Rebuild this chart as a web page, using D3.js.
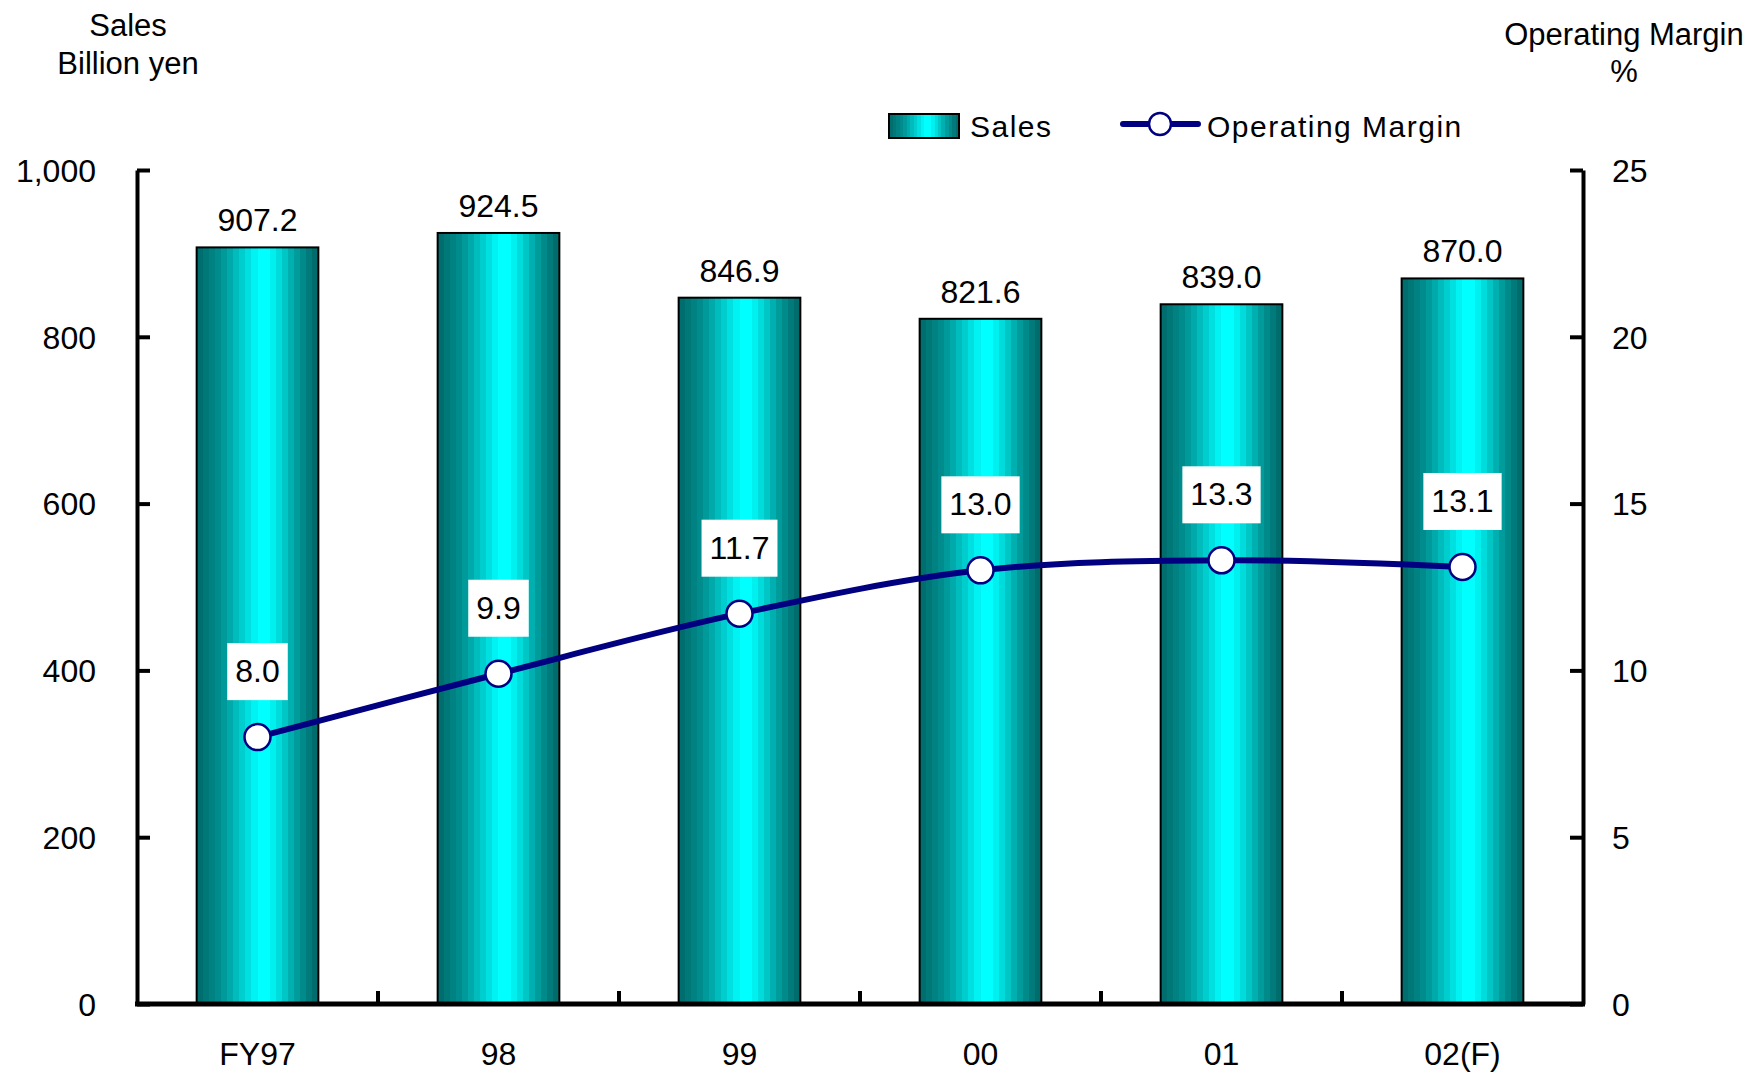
<!DOCTYPE html>
<html>
<head>
<meta charset="utf-8">
<script src="https://cdn.jsdelivr.net/npm/d3@7"></script>
<style>
  html, body { margin: 0; padding: 0; background: #fff; }
  svg { display: block; }
  text { font-family: "Liberation Sans", Arial, sans-serif; fill: #000; }
</style>
</head>
<body>
<svg id="chart" width="1753" height="1074"></svg>
<script>
// Fiscal years and series
const categories = ["FY97", "98", "99", "00", "01", "02(F)"];
const sales = [907.2, 924.5, 846.9, 821.6, 839.0, 870.0];          // billion yen
const operatingMargin = [8.0, 9.9, 11.7, 13.0, 13.3, 13.1];        // %
const salesTicks = [0, 200, 400, 600, 800, 1000];
const marginTicks = [0, 5, 10, 15, 20, 25];

const W = 1753, H = 1074;
const plot = { left: 137, right: 1583, top: 170, bottom: 1004 };

const svg = d3.select("#chart");
svg.append("rect").attr("width", W).attr("height", H).attr("fill", "#fff");

// Cylinder-like banded teal gradient for the bars
const bands = ["#006e6e", "#007878", "#008282", "#008c8c", "#009a9a", "#00aaaa",
               "#00bcbc", "#00cece", "#00e0e0", "#00f2f2", "#00ffff", "#00ffff",
               "#00f0f0", "#00dcdc", "#00c6c6", "#00b0b0", "#009c9c", "#008a8a",
               "#007a7a", "#006c6c"];
const defs = svg.append("defs");
const grad = defs.append("linearGradient").attr("id", "barGrad")
  .attr("x1", "0").attr("x2", "1").attr("y1", "0").attr("y2", "0");
bands.forEach((c, i) => {
  grad.append("stop").attr("offset", i / bands.length).attr("stop-color", c);
  grad.append("stop").attr("offset", (i + 1) / bands.length).attr("stop-color", c);
});

// Scales
const x = d3.scaleBand().domain(categories).range([plot.left, plot.right]).padding(0);
const ySales = d3.scaleLinear().domain([0, 1000]).range([plot.bottom, plot.top]);
const yMargin = d3.scaleLinear().domain([0, 25]).range([plot.bottom, plot.top]);
const barW = x.bandwidth() * 0.505;

// Bars
const g = svg.append("g");
g.selectAll("rect.bar").data(categories).join("rect")
  .attr("class", "bar")
  .attr("x", d => x(d) + (x.bandwidth() - barW) / 2)
  .attr("y", (d, i) => ySales(sales[i]))
  .attr("width", barW)
  .attr("height", (d, i) => ySales(0) - ySales(sales[i]))
  .attr("fill", "url(#barGrad)")
  .attr("stroke", "#000")
  .attr("stroke-width", 2);

// Sales value labels
g.selectAll("text.sv").data(categories).join("text")
  .attr("class", "sv")
  .attr("x", d => x(d) + x.bandwidth() / 2)
  .attr("y", (d, i) => ySales(sales[i]) - 16)
  .attr("text-anchor", "middle")
  .attr("font-size", 32)
  .text((d, i) => sales[i].toFixed(1));

// Left axis (ticks pointing inward)
const leftAxis = d3.axisLeft(ySales).tickValues(salesTicks)
  .tickFormat(d3.format(",")).tickSize(-13).tickSizeOuter(0).tickPadding(41);
const gl = svg.append("g").attr("transform", `translate(${plot.left},0)`).call(leftAxis);
gl.select(".domain").attr("stroke", "#000").attr("stroke-width", 4);
gl.selectAll(".tick line").attr("stroke", "#000").attr("stroke-width", 4);
gl.selectAll(".tick text").attr("font-size", 32).attr("font-family", "Liberation Sans, Arial, sans-serif").attr("dy", "0.35em");

// Right axis (ticks pointing inward)
const rightAxis = d3.axisRight(yMargin).tickValues(marginTicks)
  .tickSize(-13).tickSizeOuter(0).tickPadding(29);
const gr = svg.append("g").attr("transform", `translate(${plot.right},0)`).call(rightAxis);
gr.select(".domain").attr("stroke", "#000").attr("stroke-width", 4);
gr.selectAll(".tick line").attr("stroke", "#000").attr("stroke-width", 4);
gr.selectAll(".tick text").attr("font-size", 32).attr("font-family", "Liberation Sans, Arial, sans-serif").attr("dy", "0.35em");

// Category axis: baseline, separators between categories, labels
svg.append("line")
  .attr("x1", plot.left - 2).attr("x2", plot.right + 2)
  .attr("y1", plot.bottom).attr("y2", plot.bottom)
  .attr("stroke", "#000").attr("stroke-width", 5);
svg.selectAll("line.sep").data(categories.slice(1)).join("line")
  .attr("class", "sep")
  .attr("x1", d => x(d)).attr("x2", d => x(d))
  .attr("y1", plot.bottom).attr("y2", plot.bottom - 13)
  .attr("stroke", "#000").attr("stroke-width", 4);
const bottomAxis = d3.axisBottom(x).tickSize(0).tickPadding(38);
const gb = svg.append("g").attr("transform", `translate(0,${plot.bottom})`).call(bottomAxis);
gb.select(".domain").remove();
gb.selectAll(".tick text").attr("font-size", 32).attr("font-family", "Liberation Sans, Arial, sans-serif");

// Operating margin line
const cx = d => x(d) + x.bandwidth() / 2;
const line = d3.line()
  .x((d, i) => cx(categories[i]))
  .y(d => yMargin(d))
  .curve(d3.curveCatmullRom.alpha(0.5));
svg.append("path").datum(operatingMargin)
  .attr("d", line)
  .attr("fill", "none")
  .attr("stroke", "#000080")
  .attr("stroke-width", 6)
  .attr("stroke-linejoin", "round");

// Margin value labels in white boxes
const labelG = svg.append("g");
categories.forEach((c, i) => {
  const px = cx(c), py = yMargin(operatingMargin[i]);
  const t = labelG.append("text")
    .attr("x", px).attr("y", py - 55)
    .attr("text-anchor", "middle")
    .attr("font-size", 32)
    .text(operatingMargin[i].toFixed(1));
  const bb = t.node().getBBox();
  labelG.insert("rect", "text")
    .attr("x", bb.x - 8).attr("y", py - 37 - 57)
    .attr("width", bb.width + 16).attr("height", 57)
    .attr("fill", "#fff");
});

// Markers
svg.selectAll("circle.pt").data(operatingMargin).join("circle")
  .attr("class", "pt")
  .attr("cx", (d, i) => cx(categories[i]))
  .attr("cy", d => yMargin(d))
  .attr("r", 13)
  .attr("fill", "#fff")
  .attr("stroke", "#000080")
  .attr("stroke-width", 2.5);

// Axis titles
const titleL = svg.append("text").attr("text-anchor", "middle").attr("font-size", 31);
titleL.append("tspan").attr("x", 128).attr("y", 36).text("Sales");
titleL.append("tspan").attr("x", 128).attr("y", 74).text("Billion yen");
const titleR = svg.append("text").attr("text-anchor", "middle").attr("font-size", 31);
titleR.append("tspan").attr("x", 1624).attr("y", 45).text("Operating Margin");
titleR.append("tspan").attr("x", 1624).attr("y", 82).text("%");

// Legend
const lg = svg.append("g");
lg.append("rect").attr("x", 889).attr("y", 114).attr("width", 70).attr("height", 24)
  .attr("fill", "url(#barGrad)").attr("stroke", "#000").attr("stroke-width", 2);
lg.append("text").attr("x", 970).attr("y", 137).attr("font-size", 30)
  .attr("letter-spacing", 1.5).text("Sales");
lg.append("line").attr("x1", 1123).attr("x2", 1198).attr("y1", 124).attr("y2", 124)
  .attr("stroke", "#000080").attr("stroke-width", 6).attr("stroke-linecap", "round");
lg.append("circle").attr("cx", 1160).attr("cy", 124).attr("r", 11)
  .attr("fill", "#fff").attr("stroke", "#000080").attr("stroke-width", 2.5);
lg.append("text").attr("x", 1207).attr("y", 137).attr("font-size", 30)
  .attr("letter-spacing", 1.5).text("Operating Margin");
</script>
</body>
</html>
